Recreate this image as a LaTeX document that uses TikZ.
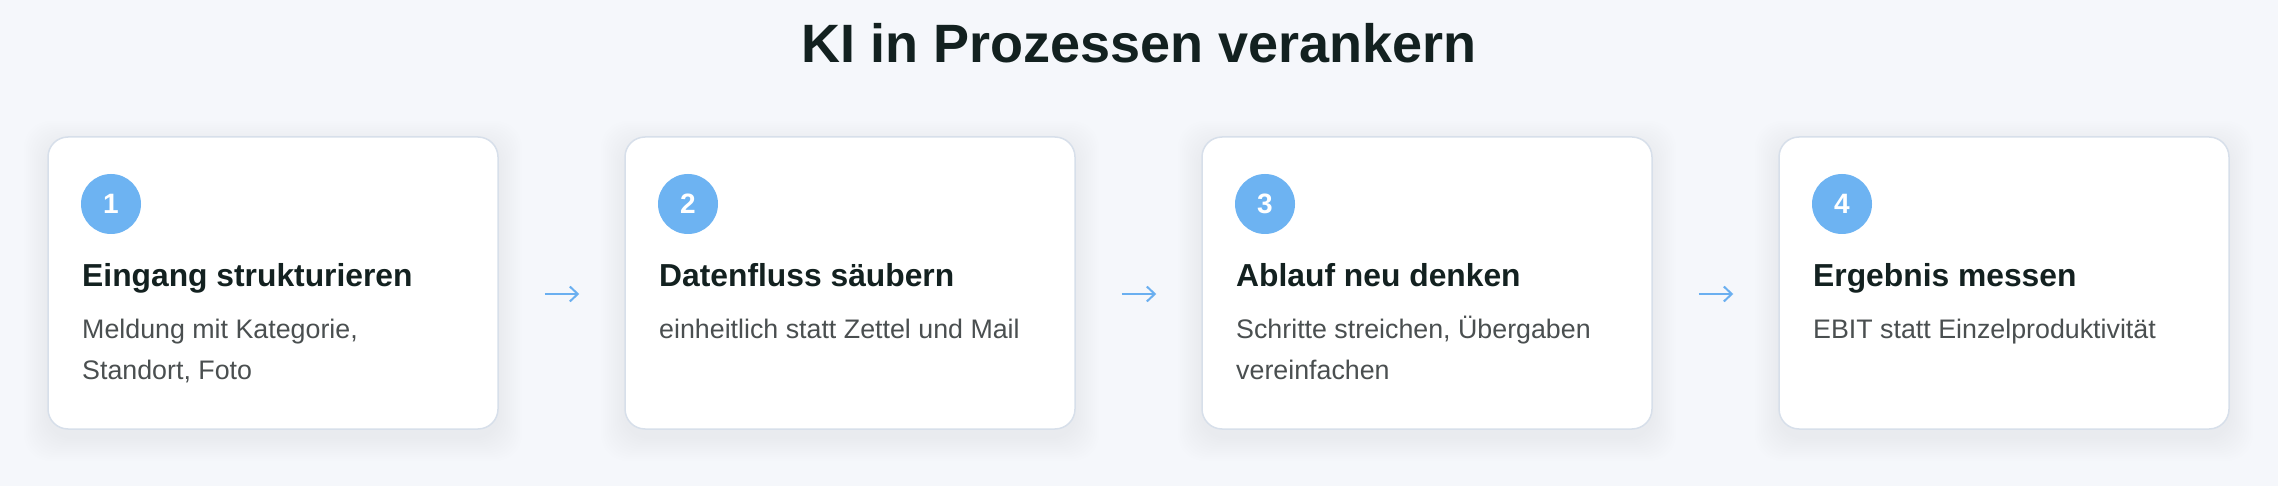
\documentclass[tikz,border=0pt]{standalone}
\usepackage{fontspec}
\setmainfont{Liberation Sans}
\usetikzlibrary{arrows.meta}
\definecolor{bgc}{HTML}{F5F7FB}
\definecolor{cardline}{HTML}{D7DFEA}
\definecolor{shadowc}{HTML}{7F8FB0}
\definecolor{badgec}{HTML}{6DB3F2}
\definecolor{headc}{HTML}{132120}
\definecolor{descc}{HTML}{4A4F50}
\definecolor{arrowc}{HTML}{6AAFF0}
\begin{document}
\begin{tikzpicture}[x=1pt,y=-1pt,
  card/.style={draw=cardline, line width=1.5pt, fill=white, rounded corners=20pt,
    minimum width=450pt, minimum height=292pt, inner sep=0pt},
  badge/.style={circle, fill=badgec, minimum size=60pt, inner sep=0pt, text=white,
    font=\fontsize{28}{32}\selectfont\bfseries},
  heading/.style={anchor=base west, inner sep=0pt, text=headc,
    font=\fontsize{31.8}{38}\selectfont\bfseries},
  desc/.style={anchor=base west, inner sep=0pt, text=descc,
    font=\fontsize{26.8}{32}\selectfont},
  titletext/.style={anchor=base, inner sep=0pt, text=headc,
    font=\fontsize{54}{62}\selectfont\bfseries},
  flow/.style={draw=arrowc, line width=2pt, -{Straight Barb[length=8pt,width=15pt]}}]
\fill[bgc] (0,0) rectangle (2278,486);
\useasboundingbox (0,0) rectangle (2278,486);
% soft shadows
\foreach \cx in {48,625,1202,1779}{
  \foreach \s in {2,4,...,24}{
    \fill[shadowc, opacity=0.005, rounded corners=26pt] (\cx-\s,137-\s+8) rectangle (\cx+450+\s,429+\s+8);
  }
}
\node[titletext] (title) at (1139,63) {KI in Prozessen verankern};
% cards
\node[card] (c1) at (273,283) {};
\node[card] (c2) at (850,283) {};
\node[card] (c3) at (1427,283) {};
\node[card] (c4) at (2004,283) {};
% card 1
\node[badge] (b1) at (111,204) {1};
\node[heading] (h1) at (82,287) {Eingang strukturieren};
\node[desc] (d1) at (82,338) {Meldung mit Kategorie,};
\node[desc] (e1) at (82,379) {Standort, Foto};
% card 2
\node[badge] (b2) at (688,204) {2};
\node[heading] (h2) at (659,287) {Datenfluss säubern};
\node[desc] (d2) at (659,338) {einheitlich statt Zettel und Mail};
% card 3
\node[badge] (b3) at (1265,204) {3};
\node[heading] (h3) at (1236,287) {Ablauf neu denken};
\node[desc] (d3) at (1236,338) {Schritte streichen, Übergaben};
\node[desc] (e3) at (1236,379) {vereinfachen};
% card 4
\node[badge] (b4) at (1842,204) {4};
\node[heading] (h4) at (1813,287) {Ergebnis messen};
\node[desc] (d4) at (1813,338) {EBIT statt Einzelproduktivität};
% arrows
\draw[flow] ([xshift=46pt,yshift=-11pt]c1.east) -- ([xshift=-45pt,yshift=-11pt]c2.west);
\draw[flow] ([xshift=46pt,yshift=-11pt]c2.east) -- ([xshift=-45pt,yshift=-11pt]c3.west);
\draw[flow] ([xshift=46pt,yshift=-11pt]c3.east) -- ([xshift=-45pt,yshift=-11pt]c4.west);
\end{tikzpicture}
\end{document}
